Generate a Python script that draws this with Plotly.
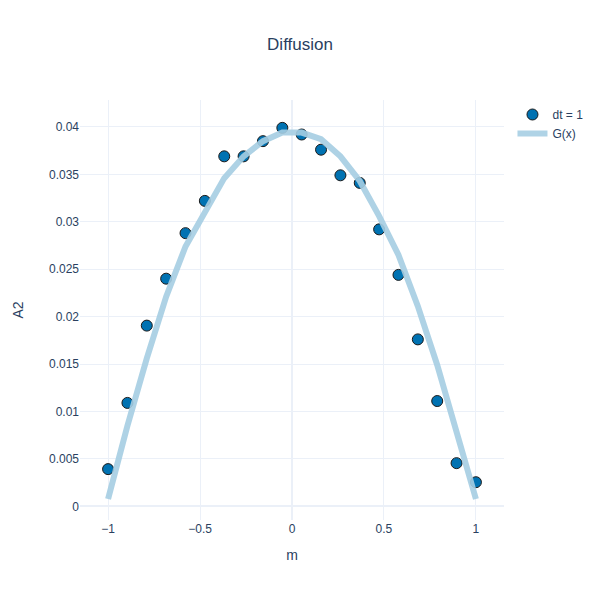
import numpy as np
import plotly.graph_objects as go

m_values = [-1.0, -0.8947, -0.7895, -0.6842, -0.5789, -0.4737, -0.3684, -0.2632, -0.1579, -0.0526,
            0.0526, 0.1579, 0.2632, 0.3684, 0.4737, 0.5789, 0.6842, 0.7895, 0.8947, 1.0]
a2_values = [0.00392, 0.0109, 0.01905, 0.0240, 0.0288, 0.0322, 0.0369, 0.0369, 0.0385, 0.0399,
             0.0392, 0.0376, 0.0349, 0.0341, 0.0292, 0.0244, 0.0176, 0.0111, 0.00455, 0.00254]
g_values = [0.00077, 0.0085, 0.0156, 0.0221, 0.0274, 0.0311, 0.0346, 0.0369, 0.0385, 0.0394,
            0.0394, 0.0387, 0.0369, 0.0343, 0.0306, 0.0265, 0.0211, 0.0149, 0.0078, 0.00077]

fig = go.Figure()
fig.add_trace(go.Scatter(
    x=m_values, y=a2_values, mode="markers", name="dt = 1",
    marker=dict(size=11, color="#0072B2", line=dict(color="#1a1a1a", width=1)),
))
fig.add_trace(go.Scatter(
    x=m_values, y=g_values, mode="lines", name="G(x)",
    line=dict(color="#a6cee3", width=6),
    opacity=0.9,
))
fig.update_layout(
    template="plotly_white",
    width=600, height=600,
    title=dict(text="Diffusion", x=0.5, xanchor="center"),
    xaxis=dict(title="m", zeroline=True),
    yaxis=dict(title=dict(text="A2", standoff=22)),
    font=dict(family="Liberation Sans, Arial, sans-serif"),
)
fig.write_html("out.html", config={"displayModeBar": False},
               post_script="document.body.style.margin='0';")
